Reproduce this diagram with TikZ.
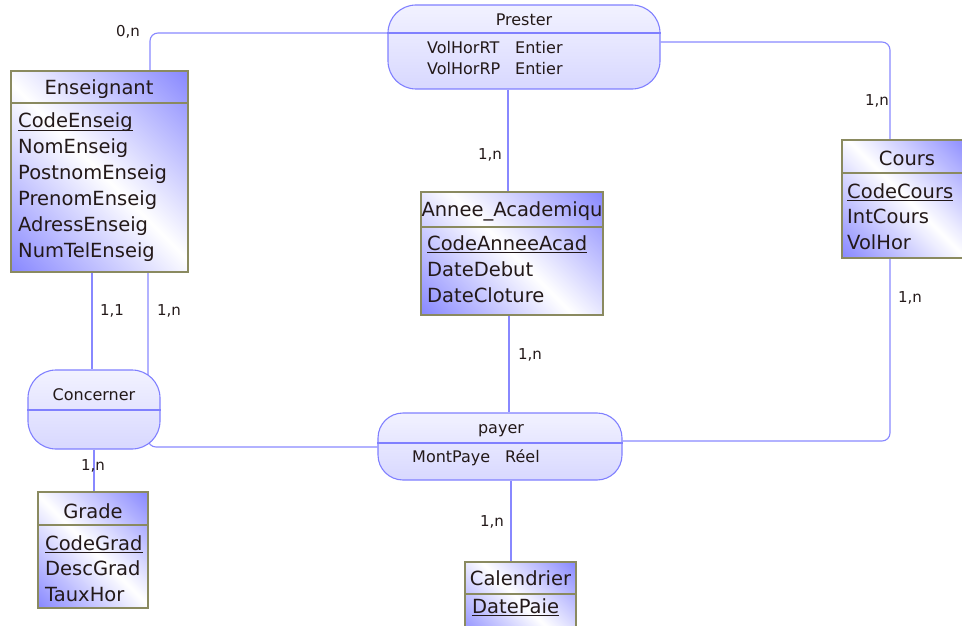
\documentclass[tikz,border=0pt]{standalone}
\usepackage{fontspec}
\setmainfont{DejaVu Sans}
\pgfdeclarelayer{bg}
\pgfsetlayers{bg,main}
\definecolor{entblue}{RGB}{120,120,255}
\definecolor{entborder}{RGB}{138,138,96}
\definecolor{relborder}{RGB}{128,128,255}
\definecolor{connc}{RGB}{136,136,255}
\definecolor{txt}{RGB}{35,25,25}
\definecolor{relA}{RGB}{242,242,255}
\definecolor{relB}{RGB}{216,216,255}
\pgfdeclarehorizontalshading{entsh}{100bp}{color(0bp)=(entblue); color(10bp)=(entblue); color(50bp)=(white); color(90bp)=(entblue); color(100bp)=(entblue)}
\newcommand\bigf{\fontsize{19.5}{23}\selectfont}
\newcommand\smallf{\fontsize{15}{18}\selectfont}
\newcommand\relf{\fontsize{16}{19}\selectfont}
\newcommand\myul[1]{\setbox0=\hbox{#1}\rlap{\rule[-3pt]{\wd0}{1.2pt}}\box0}
\tikzset{
  ent/.style={rectangle, draw=entborder, line width=1.3pt, shade, shading=entsh, shading angle=45, inner sep=0pt},
  entsep/.style={draw=entborder, line width=1.3pt},
  relshape/.style={rectangle, draw=relborder, line width=1.1pt, top color=relA, bottom color=relB, inner sep=0pt},
  relsep/.style={draw=relborder, line width=1.1pt},
  conn/.style={draw=connc, line width=1.1pt, rounded corners=8pt},
  lbl/.style={font=\smallf, text=txt, inner sep=0pt},
  attr/.style={anchor=base west, inner sep=0pt, font=\bigf, text=txt},
  ttl/.style={anchor=base, inner sep=0pt, font=\bigf, text=txt},
  rattr/.style={anchor=base west, inner sep=0pt, font=\relf, text=txt},
  rttl/.style={anchor=base, inner sep=0pt, font=\relf, text=txt}
}
\begin{document}
\begin{tikzpicture}[x=1pt,y=-1pt]
\path[use as bounding box] (0,0) rectangle (962,626);

% ---- Prester
\node[relshape, rounded corners=28pt, minimum width=272pt, minimum height=84pt] (prester) at (524,47) {};
\draw[relsep] (prester.west |- 0,33) -- (prester.east |- 0,33);
\node[rttl] (prT) at (524,26) {Prester};
\node[rattr] (prA1) at (427,54) {VolHorRT};
\node[rattr] (prA1t) at (515,54) {Entier};
\node[rattr] (prA2) at (427,75) {VolHorRP};
\node[rattr] (prA2t) at (515,75) {Entier};

% ---- Enseignant
\node[ent, minimum width=177pt, minimum height=201pt] (ens) at (99.5,171.5) {};
\draw[entsep] (ens.west |- 0,103) -- (ens.east |- 0,103);
\node[ttl] (ensT) at (99,95) {Enseignant};
\node[attr] (ens1) at (18,128) {\myul{CodeEnseig}};
\node[attr] (ens2) at (18,153.8) {NomEnseig};
\node[attr] (ens3) at (18,179.6) {PostnomEnseig};
\node[attr] (ens4) at (18,205.4) {PrenomEnseig};
\node[attr] (ens5) at (18,231.2) {AdressEnseig};
\node[attr] (ens6) at (18,257) {NumTelEnseig};

% ---- Cours
\node[ent, minimum width=130pt, minimum height=118pt] (cours) at (907,199) {};
\draw[entsep] (cours.west |- 0,173) -- (cours.east |- 0,173);
\node[ttl] (coT) at (907,165) {Cours};
\node[attr] (co1) at (847,198) {\myul{CodeCours}};
\node[attr] (co2) at (847,223.5) {IntCours};
\node[attr] (co3) at (847,249) {VolHor};

% ---- Annee_Academiqu
\node[ent, minimum width=182pt, minimum height=123pt] (annee) at (512,253.5) {};
\draw[entsep] (annee.west |- 0,227) -- (annee.east |- 0,227);
\node[ttl] (anT) at (512,216) {Annee\_Academiqu};
\node[attr] (an1) at (427,250) {\myul{CodeAnneeAcad}};
\node[attr] (an2) at (427,276) {DateDebut};
\node[attr] (an3) at (427,302) {DateCloture};

% ---- Concerner
\node[relshape, rounded corners=28pt, minimum width=132pt, minimum height=79pt] (conc) at (94,409.5) {};
\draw[relsep] (conc.west |- 0,410) -- (conc.east |- 0,410);
\node[rttl] (concT) at (94,400) {Concerner};

% ---- payer
\node[relshape, rounded corners=25pt, minimum width=244pt, minimum height=67pt] (payer) at (500,446.5) {};
\draw[relsep] (payer.west |- 0,443) -- (payer.east |- 0,443);
\node[rttl] (payT) at (501,433) {payer};
\node[rattr] (pay1) at (412,462) {MontPaye};
\node[rattr] (pay1t) at (505,462) {Réel};

% ---- Grade
\node[ent, minimum width=110pt, minimum height=116pt] (grade) at (93,550) {};
\draw[entsep] (grade.west |- 0,525) -- (grade.east |- 0,525);
\node[ttl] (grT) at (93,518) {Grade};
\node[attr] (gr1) at (45,550) {\myul{CodeGrad}};
\node[attr] (gr2) at (45,575.5) {DescGrad};
\node[attr] (gr3) at (45,601) {TauxHor};

% ---- Calendrier
\node[ent, minimum width=111pt, minimum height=78pt] (cal) at (520.5,601) {};
\draw[entsep] (cal.west |- 0,594) -- (cal.east |- 0,594);
\node[ttl] (calT) at (520.5,585) {Calendrier};
\node[attr] (cal1) at (472,613) {\myul{DatePaie}};

% ---- cardinality labels
\node[lbl] (c1) at (128,32) {0,n};
\node[lbl] (c2) at (877,101) {1,n};
\node[lbl] (c3) at (490,155) {1,n};
\node[lbl] (c4) at (112,311) {1,1};
\node[lbl] (c5) at (169,311) {1,n};
\node[lbl] (c6) at (530,355) {1,n};
\node[lbl] (c7) at (910,298) {1,n};
\node[lbl] (c8) at (93,466) {1,n};
\node[lbl] (c9) at (492,522) {1,n};

% ---- connectors (behind)
\begin{pgfonlayer}{bg}
\draw[conn] (ens.north -| 150,0) |- (prester.west |- 0,33);
\draw[conn] (prester.east |- 0,42) -| (cours.north -| 890,0);
\draw[conn] (prester.south -| 508,0) -- (annee.north -| 508,0);
\draw[conn] (annee.south -| 509,0) -- (payer.north -| 509,0);
\draw[conn] (cours.south -| 890,0) |- (payer.east |- 0,441);
\draw[conn] (ens.south -| 92,0) -- (conc.north -| 92,0);
\draw[conn] (ens.south -| 148,0) |- (payer.west |- 0,447);
\draw[conn] (conc.south -| 94,0) -- (grade.north -| 94,0);
\draw[conn] (payer.south -| 511,0) -- (cal.north -| 511,0);
\end{pgfonlayer}
\end{tikzpicture}
\end{document}
